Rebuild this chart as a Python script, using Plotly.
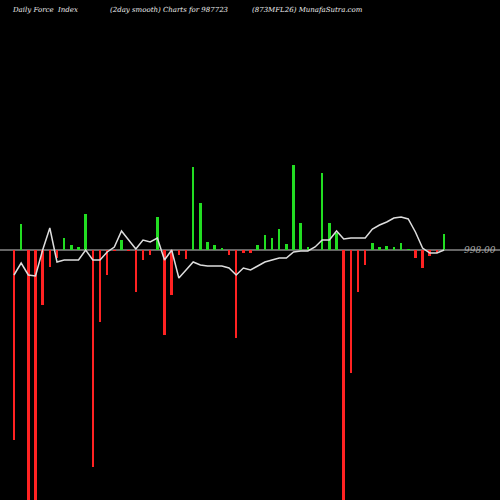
import plotly.graph_objects as go

force = [-190,26,-260,-260,-55,-17,-8,12,5,3,36,-217,-72,-25,-1,10,-1,-42,-10,-5,33,-85,-45,-5,-9,83,47,8,5,2,-5,-88,-3,-3,5,15,12,21,6,85,27,3,0,77,27,17,-260,-123,-42,-15,7,3,4,3,7,1,-8,-18,-6,-3,16]
smooth = [-25,-13,-25,-26,0,22,-12,-10,-10,-10,0,-10,-10,-2,3,19,10,1,10,8,12,-10,0,-28,-20,-12,-15,-16,-16,-16,-18,-25,-18,-20,-16,-12,-10,-8,-8,-2,-1,-1,3,10,10,19,11,12,12,12,21,25,28,32,33,31,18,2,-3,-3,0]
idx = list(range(len(force)))
colors = ['#22dd22' if v > 0 else '#ff2222' for v in force]

fig = go.Figure()
fig.add_trace(go.Bar(x=idx, y=force, marker_color=colors, marker_line_width=0, width=0.35))
fig.add_trace(go.Scatter(x=idx, y=smooth, mode='lines', line=dict(color='#dddddd', width=1.5)))
fig.add_shape(type='line', xref='paper', x0=0, x1=1, y0=0, y1=0, line=dict(color='#888888', width=1.5), layer='below')
fig.add_annotation(x=62.5, y=0, text='<i>998.00</i>', showarrow=False, font=dict(color='#aaaaaa', size=9, family='DejaVu Serif'), xanchor='left')
font = dict(color='#eeeeee', size=7, family='DejaVu Serif')
for xp, t in [(0.02, 'Daily Force  Index'), (0.215, '(2day smooth) Charts for 987723'), (0.5, '(873MFL26) MunafaSutra.com')]:
    fig.add_annotation(xref='paper', yref='paper', x=xp, y=0.992, text='<i>'+t+'</i>', showarrow=False, xanchor='left', yanchor='top', font=font)
fig.update_layout(width=500, height=500, margin=dict(l=0, r=0, t=0, b=0, pad=0), paper_bgcolor='black', plot_bgcolor='black',
                  showlegend=False, bargap=0)
fig.update_xaxes(range=[-1.95, 67.8], visible=False)
fig.update_yaxes(range=[-250, 250], visible=False)
fig.write_html('out.html', config={'displayModeBar': False}, post_script="document.body.style.margin='0';document.body.style.overflow='hidden';")
